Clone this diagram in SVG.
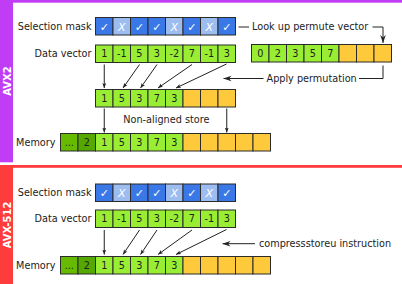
<svg xmlns="http://www.w3.org/2000/svg" width="402" height="284" viewBox="0 0 402 284">
<style>
text{font-family:"DejaVu Sans",Verdana,sans-serif;font-size:9.7px;fill:#222}
.lbl{text-anchor:end}
.num{text-anchor:middle}
.sym{text-anchor:middle;fill:#fff;font-size:11px}
.x{font-style:italic}
.band{fill:#fff;font-weight:bold;font-size:10px;text-anchor:middle}
rect.c{stroke:#2b2b2b;stroke-width:1}
.on{fill:#3a78e8}
.off{fill:#9dbcf0}
.g{fill:#99ee33}
.dg{fill:#66bb00}
.dg2{fill:#55a800}
.o{fill:#ffc93c}
.ln{fill:none;stroke:#222;stroke-width:1}
</style>
<defs>
<marker id="ah" viewBox="0 0 10 10" refX="10" refY="5" markerUnits="userSpaceOnUse" markerWidth="5" markerHeight="5" orient="auto">
<path d="M0,1 L10,5 L0,9 L2.5,5 z" fill="#222"/>
</marker>
<marker id="ahb" viewBox="0 0 10 10" refX="10" refY="5" markerUnits="userSpaceOnUse" markerWidth="8" markerHeight="8" orient="auto">
<path d="M0,1.5 L10,5 L0,8.5 L3,5 z" fill="#222"/>
</marker>
</defs>
<rect width="402" height="284" fill="#fff"/>
<!-- section bands -->
<g id="avx2-band">
<rect x="0" y="0" width="402" height="2.7" fill="#c03df5"/>
<rect x="0" y="0" width="13" height="162.3" fill="#c03df5"/>
<text class="band" transform="translate(10.5,81) rotate(-90)">AVX2</text>
</g>
<g id="avx512-band">
<rect x="0" y="165" width="402" height="2.8" fill="#ff3c3c"/>
<rect x="0" y="165" width="13" height="119" fill="#ff3c3c"/>
<text class="band" transform="translate(10.5,225) rotate(-90)">AVX-512</text>
</g>

<!-- AVX2 nodes -->
<g id="avx2-mask">
<text class="lbl" x="91.5" y="30">Selection mask</text>
<rect class="c on" x="95.5" y="17.5" width="17.5" height="17.5"/>
<rect class="c off" x="113" y="17.5" width="17.5" height="17.5"/>
<rect class="c on" x="130.5" y="17.5" width="17.5" height="17.5"/>
<rect class="c on" x="148" y="17.5" width="17.5" height="17.5"/>
<rect class="c off" x="165.5" y="17.5" width="17.5" height="17.5"/>
<rect class="c on" x="183" y="17.5" width="17.5" height="17.5"/>
<rect class="c off" x="200.5" y="17.5" width="17.5" height="17.5"/>
<rect class="c on" x="218" y="17.5" width="17.5" height="17.5"/>
<text class="sym" x="104.25" y="30.5">✓</text>
<text class="sym x" x="121.75" y="30.5">X</text>
<text class="sym" x="139.25" y="30.5">✓</text>
<text class="sym" x="156.75" y="30.5">✓</text>
<text class="sym x" x="174.25" y="30.5">X</text>
<text class="sym" x="191.75" y="30.5">✓</text>
<text class="sym x" x="209.25" y="30.5">X</text>
<text class="sym" x="226.75" y="30.5">✓</text>
</g>
<g id="avx2-data">
<text class="lbl" x="91.5" y="57">Data vector</text>
<rect class="c g" x="95.5" y="45" width="17.5" height="17.5"/>
<rect class="c g" x="113" y="45" width="17.5" height="17.5"/>
<rect class="c g" x="130.5" y="45" width="17.5" height="17.5"/>
<rect class="c g" x="148" y="45" width="17.5" height="17.5"/>
<rect class="c g" x="165.5" y="45" width="17.5" height="17.5"/>
<rect class="c g" x="183" y="45" width="17.5" height="17.5"/>
<rect class="c g" x="200.5" y="45" width="17.5" height="17.5"/>
<rect class="c g" x="218" y="45" width="17.5" height="17.5"/>
<text class="num" x="104.25" y="57.2">1</text>
<text class="num" x="121.75" y="57.2">-1</text>
<text class="num" x="139.25" y="57.2">5</text>
<text class="num" x="156.75" y="57.2">3</text>
<text class="num" x="174.25" y="57.2">-2</text>
<text class="num" x="191.75" y="57.2">7</text>
<text class="num" x="209.25" y="57.2">-1</text>
<text class="num" x="226.75" y="57.2">3</text>
</g>
<g id="avx2-permute">
<rect class="c g" x="251.5" y="44.5" width="17.5" height="17.5"/>
<rect class="c g" x="269" y="44.5" width="17.5" height="17.5"/>
<rect class="c g" x="286.5" y="44.5" width="17.5" height="17.5"/>
<rect class="c g" x="304" y="44.5" width="17.5" height="17.5"/>
<rect class="c g" x="321.5" y="44.5" width="17.5" height="17.5"/>
<rect class="c o" x="339" y="44.5" width="17.5" height="17.5"/>
<rect class="c o" x="356.5" y="44.5" width="17.5" height="17.5"/>
<rect class="c o" x="374" y="44.5" width="17.5" height="17.5"/>
<text class="num" x="260.25" y="56.7">0</text>
<text class="num" x="277.75" y="56.7">2</text>
<text class="num" x="295.25" y="56.7">3</text>
<text class="num" x="312.75" y="56.7">5</text>
<text class="num" x="330.25" y="56.7">7</text>
</g>
<g id="avx2-permuted">
<rect class="c g" x="95.5" y="89.5" width="17.5" height="17.5"/>
<rect class="c g" x="113" y="89.5" width="17.5" height="17.5"/>
<rect class="c g" x="130.5" y="89.5" width="17.5" height="17.5"/>
<rect class="c g" x="148" y="89.5" width="17.5" height="17.5"/>
<rect class="c g" x="165.5" y="89.5" width="17.5" height="17.5"/>
<rect class="c o" x="183" y="89.5" width="17.5" height="17.5"/>
<rect class="c o" x="200.5" y="89.5" width="17.5" height="17.5"/>
<rect class="c o" x="218" y="89.5" width="17.5" height="17.5"/>
<text class="num" x="104.25" y="101.7">1</text>
<text class="num" x="121.75" y="101.7">5</text>
<text class="num" x="139.25" y="101.7">3</text>
<text class="num" x="156.75" y="101.7">7</text>
<text class="num" x="174.25" y="101.7">3</text>
</g>
<g id="avx2-memory">
<text class="lbl" x="55.5" y="145.8">Memory</text>
<rect class="c dg" x="60.5" y="133.5" width="17.5" height="17.5"/>
<rect class="c dg2" x="78" y="133.5" width="17.5" height="17.5"/>
<rect class="c g" x="95.5" y="133.5" width="17.5" height="17.5"/>
<rect class="c g" x="113" y="133.5" width="17.5" height="17.5"/>
<rect class="c g" x="130.5" y="133.5" width="17.5" height="17.5"/>
<rect class="c g" x="148" y="133.5" width="17.5" height="17.5"/>
<rect class="c g" x="165.5" y="133.5" width="17.5" height="17.5"/>
<rect class="c o" x="183" y="133.5" width="17.5" height="17.5"/>
<rect class="c o" x="200.5" y="133.5" width="17.5" height="17.5"/>
<rect class="c o" x="218" y="133.5" width="17.5" height="17.5"/>
<rect class="c o" x="235.5" y="133.5" width="17.5" height="17.5"/>
<rect class="c o" x="253" y="133.5" width="17.5" height="17.5"/>
<text class="num" x="69.25" y="145.7">...</text>
<text class="num" x="86.75" y="145.7">2</text>
<text class="num" x="104.25" y="145.7">1</text>
<text class="num" x="121.75" y="145.7">5</text>
<text class="num" x="139.25" y="145.7">3</text>
<text class="num" x="156.75" y="145.7">7</text>
<text class="num" x="174.25" y="145.7">3</text>
</g>

<!-- AVX-512 nodes -->
<g id="avx512-mask">
<text class="lbl" x="91.5" y="196.2">Selection mask</text>
<rect class="c on" x="95.5" y="184" width="17.5" height="17.5"/>
<rect class="c off" x="113" y="184" width="17.5" height="17.5"/>
<rect class="c on" x="130.5" y="184" width="17.5" height="17.5"/>
<rect class="c on" x="148" y="184" width="17.5" height="17.5"/>
<rect class="c off" x="165.5" y="184" width="17.5" height="17.5"/>
<rect class="c on" x="183" y="184" width="17.5" height="17.5"/>
<rect class="c off" x="200.5" y="184" width="17.5" height="17.5"/>
<rect class="c on" x="218" y="184" width="17.5" height="17.5"/>
<text class="sym" x="104.25" y="197">✓</text>
<text class="sym x" x="121.75" y="197">X</text>
<text class="sym" x="139.25" y="197">✓</text>
<text class="sym" x="156.75" y="197">✓</text>
<text class="sym x" x="174.25" y="197">X</text>
<text class="sym" x="191.75" y="197">✓</text>
<text class="sym x" x="209.25" y="197">X</text>
<text class="sym" x="226.75" y="197">✓</text>
</g>
<g id="avx512-data">
<text class="lbl" x="91.5" y="222.3">Data vector</text>
<rect class="c g" x="95.5" y="210" width="17.5" height="17.5"/>
<rect class="c g" x="113" y="210" width="17.5" height="17.5"/>
<rect class="c g" x="130.5" y="210" width="17.5" height="17.5"/>
<rect class="c g" x="148" y="210" width="17.5" height="17.5"/>
<rect class="c g" x="165.5" y="210" width="17.5" height="17.5"/>
<rect class="c g" x="183" y="210" width="17.5" height="17.5"/>
<rect class="c g" x="200.5" y="210" width="17.5" height="17.5"/>
<rect class="c g" x="218" y="210" width="17.5" height="17.5"/>
<text class="num" x="104.25" y="222.2">1</text>
<text class="num" x="121.75" y="222.2">-1</text>
<text class="num" x="139.25" y="222.2">5</text>
<text class="num" x="156.75" y="222.2">3</text>
<text class="num" x="174.25" y="222.2">-2</text>
<text class="num" x="191.75" y="222.2">7</text>
<text class="num" x="209.25" y="222.2">-1</text>
<text class="num" x="226.75" y="222.2">3</text>
</g>
<g id="avx512-memory">
<text class="lbl" x="55.5" y="268.8">Memory</text>
<rect class="c dg" x="60.5" y="256.5" width="17.5" height="17.5"/>
<rect class="c dg2" x="78" y="256.5" width="17.5" height="17.5"/>
<rect class="c g" x="95.5" y="256.5" width="17.5" height="17.5"/>
<rect class="c g" x="113" y="256.5" width="17.5" height="17.5"/>
<rect class="c g" x="130.5" y="256.5" width="17.5" height="17.5"/>
<rect class="c g" x="148" y="256.5" width="17.5" height="17.5"/>
<rect class="c g" x="165.5" y="256.5" width="17.5" height="17.5"/>
<rect class="c o" x="183" y="256.5" width="17.5" height="17.5"/>
<rect class="c o" x="200.5" y="256.5" width="17.5" height="17.5"/>
<rect class="c o" x="218" y="256.5" width="17.5" height="17.5"/>
<rect class="c o" x="235.5" y="256.5" width="17.5" height="17.5"/>
<rect class="c o" x="253" y="256.5" width="17.5" height="17.5"/>
<text class="num" x="69.25" y="268.7">...</text>
<text class="num" x="86.75" y="268.7">2</text>
<text class="num" x="104.25" y="268.7">1</text>
<text class="num" x="121.75" y="268.7">5</text>
<text class="num" x="139.25" y="268.7">3</text>
<text class="num" x="156.75" y="268.7">7</text>
<text class="num" x="174.25" y="268.7">3</text>
</g>

<!-- connectors -->
<g id="connectors">
<line class="ln" x1="104.25" y1="64.5" x2="104.25" y2="88" marker-end="url(#ah)"/>
<line class="ln" x1="139.5" y1="64.5" x2="123" y2="88" marker-end="url(#ah)"/>
<line class="ln" x1="157" y1="64.5" x2="140.5" y2="88" marker-end="url(#ah)"/>
<line class="ln" x1="192" y1="64.5" x2="158" y2="88" marker-end="url(#ah)"/>
<line class="ln" x1="226.5" y1="64" x2="176" y2="88" marker-end="url(#ah)"/>
<line class="ln" x1="104.25" y1="108.5" x2="104.25" y2="132.5" marker-end="url(#ah)"/>
<line class="ln" x1="226.75" y1="108.5" x2="226.75" y2="132.5" marker-end="url(#ah)"/>
<line class="ln" x1="238.5" y1="27" x2="249" y2="27"/>
<polyline class="ln" points="372.5,27 383,27 383,43" marker-end="url(#ahb)"/>
<polyline class="ln" points="383,65.5 383,78.5 359,78.5"/>
<line class="ln" x1="263.5" y1="78.5" x2="223.5" y2="78.5" marker-end="url(#ahb)"/>
<text x="252" y="30.2">Look up permute vector</text>
<text x="266.5" y="81.8">Apply permutation</text>
<text x="123.3" y="123.3">Non-aligned store</text>
<line class="ln" x1="104.25" y1="230" x2="104.25" y2="254.5" marker-end="url(#ah)"/>
<line class="ln" x1="139.5" y1="230" x2="123" y2="254.5" marker-end="url(#ah)"/>
<line class="ln" x1="157" y1="230" x2="140.5" y2="254.5" marker-end="url(#ah)"/>
<line class="ln" x1="192" y1="230" x2="158" y2="254.5" marker-end="url(#ah)"/>
<line class="ln" x1="226.5" y1="229.5" x2="176" y2="254.5" marker-end="url(#ah)"/>
<line class="ln" x1="255" y1="243.7" x2="222.5" y2="243.7" marker-end="url(#ahb)"/>
<text x="259" y="246.6">compressstoreu instruction</text>
</g>
</svg>
